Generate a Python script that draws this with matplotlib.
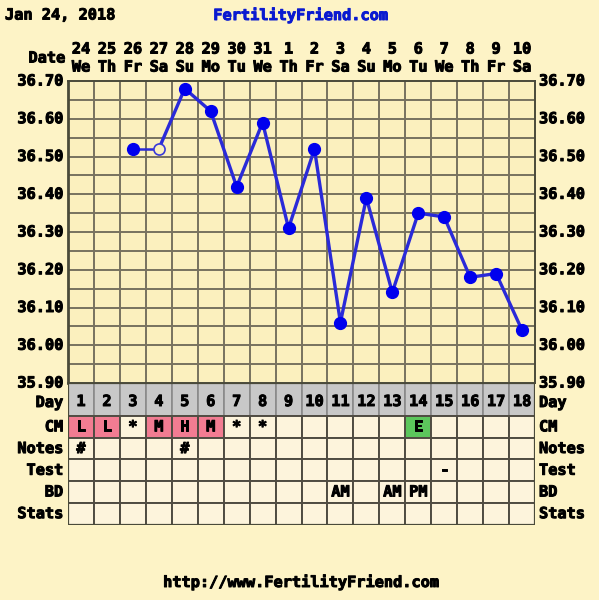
import numpy as np
import matplotlib.pyplot as plt
import matplotlib.patheffects as pe
from matplotlib.patches import Rectangle

dates = ['24', '25', '26', '27', '28', '29', '30', '31', '1', '2', '3', '4', '5', '6', '7', '8', '9', '10']
weekdays = ['We', 'Th', 'Fr', 'Sa', 'Su', 'Mo', 'Tu', 'We', 'Th', 'Fr', 'Sa', 'Su', 'Mo', 'Tu', 'We', 'Th', 'Fr', 'Sa']
days = list(range(1, 19))
temps = [np.nan, np.nan, 36.52, 36.52, 36.68, 36.62, 36.42, 36.59, 36.31, 36.52,
         36.06, 36.39, 36.14, 36.35, 36.34, 36.18, 36.19, 36.04]
open_days = [4]
cm = ['L', 'L', '*', 'M', 'H', 'M', '*', '*', '', '', '', '', '', 'E', '', '', '', '']
notes = ['#', '', '', '', '#', '', '', '', '', '', '', '', '', '', '', '', '', '']
test = ['', '', '', '', '', '', '', '', '', '', '', '', '', '', '-', '', '', '']
bd = ['', '', '', '', '', '', '', '', '', '', 'AM', '', 'AM', 'PM', '', '', '', '']
stats = [''] * 18
yticks = [35.90, 36.00, 36.10, 36.20, 36.30, 36.40, 36.50, 36.60, 36.70]
row_names = ['CM', 'Notes', 'Test', 'BD', 'Stats']

W, H = 599, 600
bg = '#fdf3c6'
plot_bg = '#fbf0be'
cell_bg = '#fdf4dc'
grid_c = '#77725f'
blue = '#0000ee'
cm_colors = {'L': '#f27c92', 'M': '#f27c92', 'H': '#f27c92', 'E': '#5cc65c'}
font = dict(family='DejaVu Sans Mono', fontweight='bold', fontsize=11)


def fx(x):
    return x / W


def fy(y):
    return 1 - y / H


def heavy(color='black'):
    return [pe.withStroke(linewidth=0.7, foreground=color)]


fig = plt.figure(figsize=(W / 100, H / 100), dpi=100, facecolor=bg)

# temperature plot
L, R, T, B = 68, 535, 81, 383
ax = fig.add_axes([fx(L), fy(B), (R - L) / W, (B - T) / H])
ax.set_facecolor(plot_bg)
ax.set_xlim(0.5, 18.5)
ax.set_ylim(35.90, 36.70)
for x in np.arange(1.5, 18.5, 1):
    ax.axvline(x, color=grid_c, lw=1.4, zorder=1)
for y in np.arange(35.95, 36.70, 0.05):
    ax.axhline(y, color=grid_c, lw=1.4, zorder=1)
ax.set_xticks([])
ax.set_yticks([])
for s in ax.spines.values():
    s.set_color('#4a4a3a')
    s.set_linewidth(1.4)
ax.spines['left'].set_linewidth(2)

t = np.array(temps)
d = np.array(days)
ax.plot(d[2:4], t[2:4], color='#2a2ad8', lw=1.8, zorder=2)
ax.plot(d[3:], t[3:], color='#2a2ad8', lw=2.4, zorder=2)
filled = [i for i in range(18) if days[i] not in open_days]
ax.plot(d[filled], t[filled], 'o', color=blue, ms=8.5, ls='none', zorder=3)
hollow = [i for i in range(18) if days[i] in open_days]
ax.plot(d[hollow], t[hollow], 'o', mfc=plot_bg, mec='#3a3ad8', mew=1.2, ms=8, ls='none', zorder=3)

for v in yticks:
    py = T + (36.70 - v) / 0.80 * (B - T)
    fig.text(fx(63), fy(py), f'{v:.2f}', ha='right', va='center', path_effects=heavy(), **font)
    fig.text(fx(539), fy(py), f'{v:.2f}', ha='left', va='center', path_effects=heavy(), **font)

# header
colw = (R - L) / 18
for i in range(18):
    cx = L + colw * (i + 0.5)
    fig.text(fx(cx), fy(49), dates[i], ha='center', va='center', path_effects=heavy(), **font)
    fig.text(fx(cx), fy(67), weekdays[i], ha='center', va='center', path_effects=heavy(), **font)
fig.text(fx(65), fy(58), 'Date', ha='right', va='center', path_effects=heavy(), **font)
fig.text(fx(5), fy(15), 'Jan 24, 2018', ha='left', va='center', path_effects=heavy(), **font)
fig.text(fx(300), fy(15), 'FertilityFriend.com', ha='center', va='center', color='#0a1ad0',
         path_effects=heavy('#0a1ad0'), **font)
fig.text(fx(300), fy(582), 'http://www.FertilityFriend.com', ha='center', va='center',
         path_effects=heavy(), **font)

# table
tb_top, day_h, row_h = 383, 33, 21.7
tb_bot = tb_top + day_h + row_h * 5
tax = fig.add_axes([fx(L), fy(tb_bot), (R - L) / W, (tb_bot - tb_top) / H])
tax.set_xlim(0.5, 18.5)
tax.set_ylim(tb_bot - tb_top, 0)
tax.axis('off')
rows = [cm, notes, test, bd, stats]
for i in range(18):
    x0 = days[i] - 0.5
    tax.add_patch(Rectangle((x0, 0), 1, day_h, fc='#c8c8c8', ec='#8a8a8a', lw=1.2))
    tax.text(days[i], day_h / 2 + 2, str(days[i]), ha='center', va='center',
             path_effects=heavy(), **font)
    for r, vals in enumerate(rows):
        y0 = day_h + r * row_h
        fc = cm_colors.get(vals[i], cell_bg) if r == 0 else cell_bg
        tax.add_patch(Rectangle((x0, y0), 1, row_h, fc=fc, ec='#504c42', lw=1.4))
        if vals[i]:
            tax.text(days[i], y0 + row_h / 2, vals[i], ha='center', va='center',
                     path_effects=heavy(), **font)
tax.add_patch(Rectangle((0.5, 0), 18, tb_bot - tb_top, fc='none', ec='#4a4a3a', lw=1.6))

for lbl_x, ha in [(63, 'right'), (539, 'left')]:
    fig.text(fx(lbl_x), fy(tb_top + day_h / 2 + 3), 'Day', ha=ha, va='center',
             path_effects=heavy(), **font)
    for r, name in enumerate(row_names):
        py = tb_top + day_h + r * row_h + row_h / 2
        fig.text(fx(lbl_x), fy(py), name, ha=ha, va='center', path_effects=heavy(), **font)

fig.savefig('out.png', dpi=100, facecolor=bg)
